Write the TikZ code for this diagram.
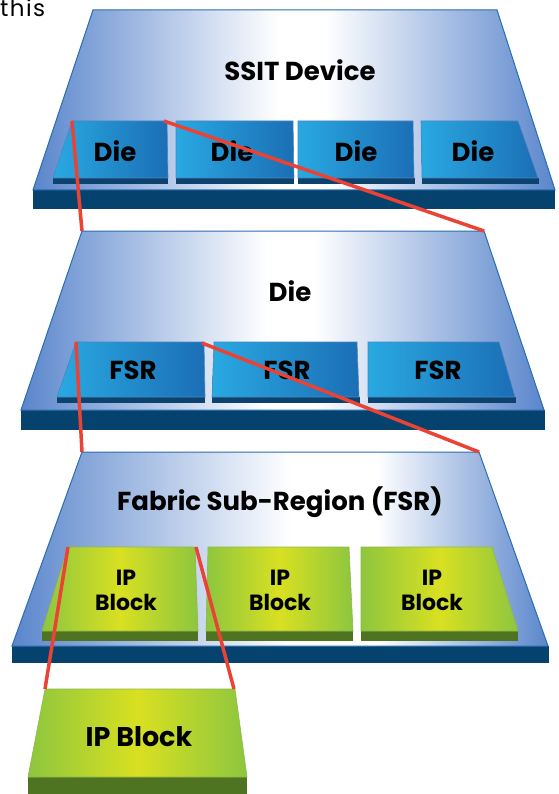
\documentclass[tikz,border=0pt]{standalone}
\usepackage{fontspec}
\setmainfont{Poppins}
\usetikzlibrary{arrows,shapes}
\definecolor{slabblue}{HTML}{06426E}
\definecolor{faceblue}{HTML}{5A86CC}
\definecolor{faceedge}{HTML}{2A6DB0}
\definecolor{tilelight}{HTML}{29A9E1}
\definecolor{tiledark}{HTML}{1B6EB5}
\definecolor{tileedge}{HTML}{4A86C0}
\definecolor{stripblue}{HTML}{0B436E}
\definecolor{ipgreen}{HTML}{8DC63F}
\definecolor{ipyellow}{HTML}{D9E021}
\definecolor{ipedge}{HTML}{8FB84A}
\definecolor{stripgreen}{HTML}{4F7421}
\definecolor{zoomred}{HTML}{EA4335}
\pgfdeclarehorizontalshading{layershade}{100bp}{color(0bp)=(faceblue); color(25bp)=(faceblue); color(48.5bp)=(white); color(53bp)=(white); color(75bp)=(faceblue); color(100bp)=(faceblue)}
\pgfdeclarehorizontalshading{fsrshade}{100bp}{color(0bp)=(faceblue); color(25bp)=(faceblue); color(51bp)=(white); color(59bp)=(white); color(75bp)=(faceblue); color(100bp)=(faceblue)}
\tikzstyle{slab}=[fill=slabblue]
\tikzstyle{layer}=[draw=faceedge,line width=1pt,shading=layershade]
\tikzstyle{bluetile}=[draw=tileedge,line width=.6pt,left color=tilelight,right color=tiledark]
\tikzstyle{bluestrip}=[fill=stripblue]
\tikzstyle{iptile}=[draw=ipedge,line width=.6pt,left color=ipgreen,right color=ipgreen,middle color=ipyellow]
\tikzstyle{greenstrip}=[fill=stripgreen]
\tikzstyle{title}=[font=\fontsize{26}{29}\selectfont\bfseries,inner sep=0pt]
\tikzstyle{tiletext}=[font=\fontsize{22}{25}\selectfont\bfseries,inner sep=0pt,align=center]
\tikzstyle{zoomline}=[draw=zoomred,line width=3.5pt]

\begin{document}
\begin{tikzpicture}[x=1pt,y=-1pt]
        \useasboundingbox (0,0) rectangle (558,794);
        \node[anchor=base west,inner sep=0pt,font=\fontsize{23}{26}\selectfont\addfontfeature{LetterSpace=6}] (this) at (0,17) {this};
        % SSIT device
        \fill[slab] (33,190) rectangle (555,209);
        \shade[layer] (93,10) -- (497,10) -- (555,190) -- (33,190) -- cycle;
        \coordinate (ssittl) at (93,10);
        \node[title] (ssit) at (300,70) {SSIT Device};
        \fill[bluestrip] (53,178) rectangle (168,184);
        \shade[bluetile] (72,121) -- (167,121) -- (168,178) -- (53,178) -- cycle;
        \fill[bluestrip] (176,178) rectangle (294,184);
        \shade[bluetile] (176,121) -- (293,121) -- (294,178) -- (176,178) -- cycle;
        \fill[bluestrip] (298,178) rectangle (415,184);
        \shade[bluetile] (298,121) -- (413,121) -- (414,178) -- (298,178) -- cycle;
        \fill[bluestrip] (422,178) rectangle (539,184);
        \shade[bluetile] (421,121) -- (518,121) -- (538,178) -- (422,178) -- cycle;
        \coordinate (dieAtl) at (72,121);
        \coordinate (dieAtr) at (164,121);
        \node[title] (dieA) at (115,151) {Die};
        \node[title] (dieB) at (232,151) {Die};
        \node[title] (dieC) at (356,151) {Die};
        \node[title] (dieD) at (473,151) {Die};
        % die
        \fill[slab] (21,410) rectangle (545,430);
        \shade[layer] (82,231) -- (484,231) -- (544,410) -- (21,410) -- cycle;
        \coordinate (dietl) at (82,231);
        \coordinate (dietr) at (484,231);
        \node[title] (die) at (290,291) {Die};
        \fill[bluestrip] (57,397) rectangle (205,403);
        \shade[bluetile] (76,342) -- (204,342) -- (205,397) -- (57,397) -- cycle;
        \fill[bluestrip] (212,397) rectangle (360,403);
        \shade[bluetile] (214,342) -- (357,342) -- (359,397) -- (212,397) -- cycle;
        \fill[bluestrip] (368,397) rectangle (516,403);
        \shade[bluetile] (368,342) -- (499,342) -- (515,397) -- (368,397) -- cycle;
        \coordinate (fsrAtl) at (76,342);
        \coordinate (fsrAtr) at (202,343);
        \node[title] (fsrA) at (133,370) {FSR};
        \node[title] (fsrB) at (287,370) {FSR};
        \node[title] (fsrC) at (438,370) {FSR};
        % fabric sub-region
        \fill[slab] (12,646) rectangle (549,663);
        \shade[layer,shading=fsrshade] (82,452) -- (479,452) -- (548,646) -- (12,646) -- cycle;
        \coordinate (fsrtl) at (82,452);
        \coordinate (fsrtr) at (479,452);
        \node[title] (fsr) at (280,502) {Fabric Sub-Region (FSR)};
        \fill[greenstrip] (42,631) rectangle (198,641);
        \shade[iptile] (68,547) -- (195,547) -- (198,631) -- (42,631) -- cycle;
        \fill[greenstrip] (206,631) rectangle (353,641);
        \shade[iptile] (208,547) -- (349,547) -- (353,631) -- (206,631) -- cycle;
        \fill[greenstrip] (361,631) rectangle (518,641);
        \shade[iptile] (361,547) -- (492,547) -- (518,631) -- (361,631) -- cycle;
        \coordinate (ipAtl) at (68,547);
        \coordinate (ipAtr) at (196,547);
        \node[tiletext] (ipA) at (126,590) {IP\\Block};
        \node[tiletext] (ipB) at (280,590) {IP\\Block};
        \node[tiletext] (ipC) at (432,590) {IP\\Block};
        % ip block
        \fill[greenstrip] (28,777) rectangle (247,794);
        \shade[iptile] (45,689) -- (235,689) -- (247,777) -- (28,777) -- cycle;
        \coordinate (iptl) at (45,689);
        \coordinate (iptr) at (234,689);
        \node[title,font=\fontsize{27}{30}\selectfont\bfseries] (ip) at (139,737) {IP Block};
        % zoom lines
        \draw[zoomline] (dieAtl) -- (dietl);
        \draw[zoomline] (dieAtr) -- (dietr);
        \draw[zoomline] (fsrAtl) -- (fsrtl);
        \draw[zoomline] (fsrAtr) -- (fsrtr);
        \draw[zoomline] (ipAtl) -- (iptl);
        \draw[zoomline] (ipAtr) -- (iptr);
      \end{tikzpicture}
\end{document}
